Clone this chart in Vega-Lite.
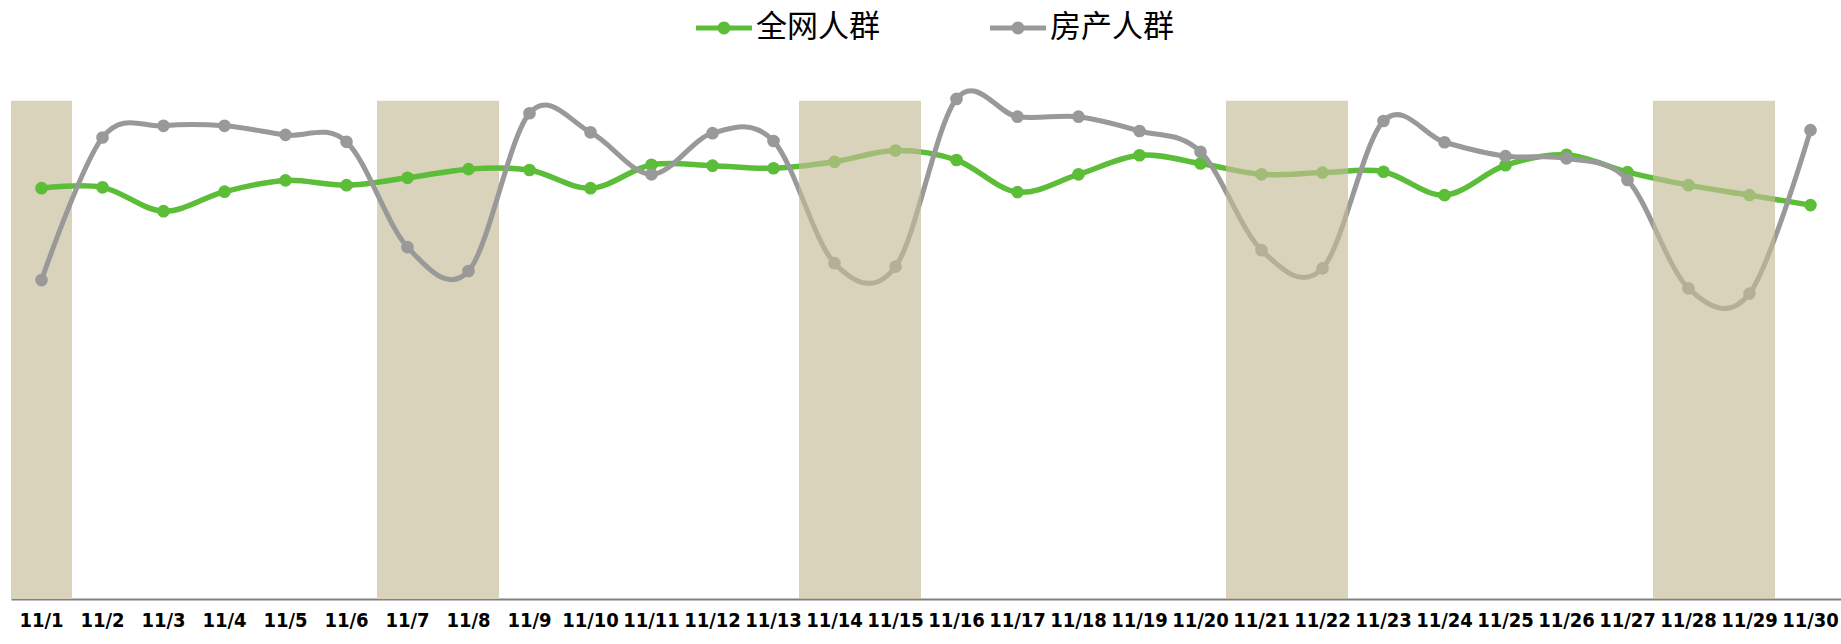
{
  "$schema": "https://vega.github.io/schema/vega-lite/v6.json",
  "autosize": {"type": "none"},
  "padding": {"left": 11, "top": 79, "right": 0, "bottom": 45},
  "width": 1830,
  "height": 520,
  "background": "white",
  "datasets": {
    "series": [
      {"day": "11/1", "series": "全网人群", "value": 94.8},
      {"day": "11/2", "series": "全网人群", "value": 95.0},
      {"day": "11/3", "series": "全网人群", "value": 89.5},
      {"day": "11/4", "series": "全网人群", "value": 94.0},
      {"day": "11/5", "series": "全网人群", "value": 96.6},
      {"day": "11/6", "series": "全网人群", "value": 95.5},
      {"day": "11/7", "series": "全网人群", "value": 97.2},
      {"day": "11/8", "series": "全网人群", "value": 99.2},
      {"day": "11/9", "series": "全网人群", "value": 99.0},
      {"day": "11/10", "series": "全网人群", "value": 94.8},
      {"day": "11/11", "series": "全网人群", "value": 100.2},
      {"day": "11/12", "series": "全网人群", "value": 100.0},
      {"day": "11/13", "series": "全网人群", "value": 99.4},
      {"day": "11/14", "series": "全网人群", "value": 100.9},
      {"day": "11/15", "series": "全网人群", "value": 103.5},
      {"day": "11/16", "series": "全网人群", "value": 101.3},
      {"day": "11/17", "series": "全网人群", "value": 93.9},
      {"day": "11/18", "series": "全网人群", "value": 98.0},
      {"day": "11/19", "series": "全网人群", "value": 102.4},
      {"day": "11/20", "series": "全网人群", "value": 100.5},
      {"day": "11/21", "series": "全网人群", "value": 98.0},
      {"day": "11/22", "series": "全网人群", "value": 98.4},
      {"day": "11/23", "series": "全网人群", "value": 98.6},
      {"day": "11/24", "series": "全网人群", "value": 93.2},
      {"day": "11/25", "series": "全网人群", "value": 100.1},
      {"day": "11/26", "series": "全网人群", "value": 102.5},
      {"day": "11/27", "series": "全网人群", "value": 98.5},
      {"day": "11/28", "series": "全网人群", "value": 95.5},
      {"day": "11/29", "series": "全网人群", "value": 93.2},
      {"day": "11/30", "series": "全网人群", "value": 90.9},
      {"day": "11/1", "series": "房产人群", "value": 73.6},
      {"day": "11/2", "series": "房产人群", "value": 106.5},
      {"day": "11/3", "series": "房产人群", "value": 109.2},
      {"day": "11/4", "series": "房产人群", "value": 109.2},
      {"day": "11/5", "series": "房产人群", "value": 107.1},
      {"day": "11/6", "series": "房产人群", "value": 105.5},
      {"day": "11/7", "series": "房产人群", "value": 81.2},
      {"day": "11/8", "series": "房产人群", "value": 75.7},
      {"day": "11/9", "series": "房产人群", "value": 112.1},
      {"day": "11/10", "series": "房产人群", "value": 107.7},
      {"day": "11/11", "series": "房产人群", "value": 98.0},
      {"day": "11/12", "series": "房产人群", "value": 107.5},
      {"day": "11/13", "series": "房产人群", "value": 105.7},
      {"day": "11/14", "series": "房产人群", "value": 77.5},
      {"day": "11/15", "series": "房产人群", "value": 76.7},
      {"day": "11/16", "series": "房产人群", "value": 115.4},
      {"day": "11/17", "series": "房产人群", "value": 111.3},
      {"day": "11/18", "series": "房产人群", "value": 111.3},
      {"day": "11/19", "series": "房产人群", "value": 108.0},
      {"day": "11/20", "series": "房产人群", "value": 103.2},
      {"day": "11/21", "series": "房产人群", "value": 80.5},
      {"day": "11/22", "series": "房产人群", "value": 76.3},
      {"day": "11/23", "series": "房产人群", "value": 110.3},
      {"day": "11/24", "series": "房产人群", "value": 105.4},
      {"day": "11/25", "series": "房产人群", "value": 102.2},
      {"day": "11/26", "series": "房产人群", "value": 101.7},
      {"day": "11/27", "series": "房产人群", "value": 96.7},
      {"day": "11/28", "series": "房产人群", "value": 71.7},
      {"day": "11/29", "series": "房产人群", "value": 70.5},
      {"day": "11/30", "series": "房产人群", "value": 108.2}
    ],
    "weekends": [
      {"day": "11/1", "layer": "back"},
      {"day": "11/7", "layer": "back"},
      {"day": "11/8", "layer": "back"},
      {"day": "11/14", "layer": "front"},
      {"day": "11/15", "layer": "front"},
      {"day": "11/21", "layer": "front"},
      {"day": "11/22", "layer": "front"},
      {"day": "11/28", "layer": "front"},
      {"day": "11/29", "layer": "front"}
    ]
  },
  "config": {
    "view": {"stroke": null},
    "axisX": {
      "title": null,
      "domainColor": "#808080",
      "domainWidth": 2,
      "ticks": false,
      "grid": false,
      "labelAngle": 0,
      "labelFont": "DejaVu Sans Condensed, sans-serif",
      "labelFontWeight": "bold",
      "labelFontSize": 20,
      "labelColor": "#000000",
      "labelPadding": 11
    }
  },
  "layer": [
    {
      "data": {"name": "weekends"},
      "transform": [{"filter": "datum.layer === 'back'"}],
      "mark": {"type": "bar", "color": "#d9d3bb"},
      "encoding": {
        "x": {"field": "day", "type": "ordinal", "sort": null,
              "scale": {"type": "band", "paddingInner": 0, "paddingOuter": 0,
                "domain": ["11/1","11/2","11/3","11/4","11/5","11/6","11/7","11/8","11/9","11/10","11/11","11/12","11/13","11/14","11/15","11/16","11/17","11/18","11/19","11/20","11/21","11/22","11/23","11/24","11/25","11/26","11/27","11/28","11/29","11/30"]}},
        "y": {"datum": 115, "type": "quantitative", "scale": {"domain": [0, 120]}, "axis": null}
      }
    },
    {
      "data": {"name": "series"},
      "transform": [{"filter": "datum.series === '全网人群'"}],
      "mark": {"type": "line", "interpolate": "cardinal", "strokeWidth": 5.5, "color": "#5cbd38"},
      "encoding": {
        "x": {"field": "day", "type": "ordinal", "sort": null},
        "y": {"field": "value", "type": "quantitative", "axis": null}
      }
    },
    {
      "data": {"name": "series"},
      "transform": [{"filter": "datum.series === '全网人群'"}],
      "mark": {"type": "point", "filled": true, "size": 160, "opacity": 1},
      "encoding": {
        "x": {"field": "day", "type": "ordinal", "sort": null},
        "y": {"field": "value", "type": "quantitative", "axis": null},
        "fill": {"field": "series", "type": "nominal",
          "scale": {"domain": ["全网人群", "房产人群"], "range": ["#5cbd38", "#999999"]},
          "legend": {
            "title": null,
            "orient": "none",
            "direction": "horizontal",
            "legendX": 685,
            "legendY": -79,
            "padding": 0,
            "symbolType": "M-1,-0.09L1,-0.09L1,0.09L-1,0.09Z M0.23,0A0.23,0.23,0,1,1,-0.23,0A0.23,0.23,0,1,1,0.23,0Z",
            "symbolSize": 3136,
            "symbolStrokeWidth": 0,
            "symbolOpacity": 1,
            "labelFont": "Noto Sans CJK SC",
            "labelFontSize": 31,
            "labelColor": "#000000",
            "labelOffset": 4,
            "columnPadding": 110,
            "labelLimit": 300
          }
        }
      }
    },
    {
      "data": {"name": "series"},
      "transform": [{"filter": "datum.series === '房产人群'"}],
      "mark": {"type": "line", "interpolate": "cardinal", "strokeWidth": 5, "color": "#999999"},
      "encoding": {
        "x": {"field": "day", "type": "ordinal", "sort": null},
        "y": {"field": "value", "type": "quantitative", "axis": null}
      }
    },
    {
      "data": {"name": "series"},
      "transform": [{"filter": "datum.series === '房产人群'"}],
      "mark": {"type": "point", "filled": true, "size": 160, "opacity": 1},
      "encoding": {
        "x": {"field": "day", "type": "ordinal", "sort": null},
        "y": {"field": "value", "type": "quantitative", "axis": null},
        "fill": {"field": "series", "type": "nominal"}
      }
    },
    {
      "data": {"name": "weekends"},
      "transform": [{"filter": "datum.layer === 'front'"}],
      "mark": {"type": "bar", "color": "#c4bb96", "opacity": 0.65, "xOffset": -5},
      "encoding": {
        "x": {"field": "day", "type": "ordinal", "sort": null},
        "y": {"datum": 115, "type": "quantitative", "axis": null}
      }
    }
  ]
}
